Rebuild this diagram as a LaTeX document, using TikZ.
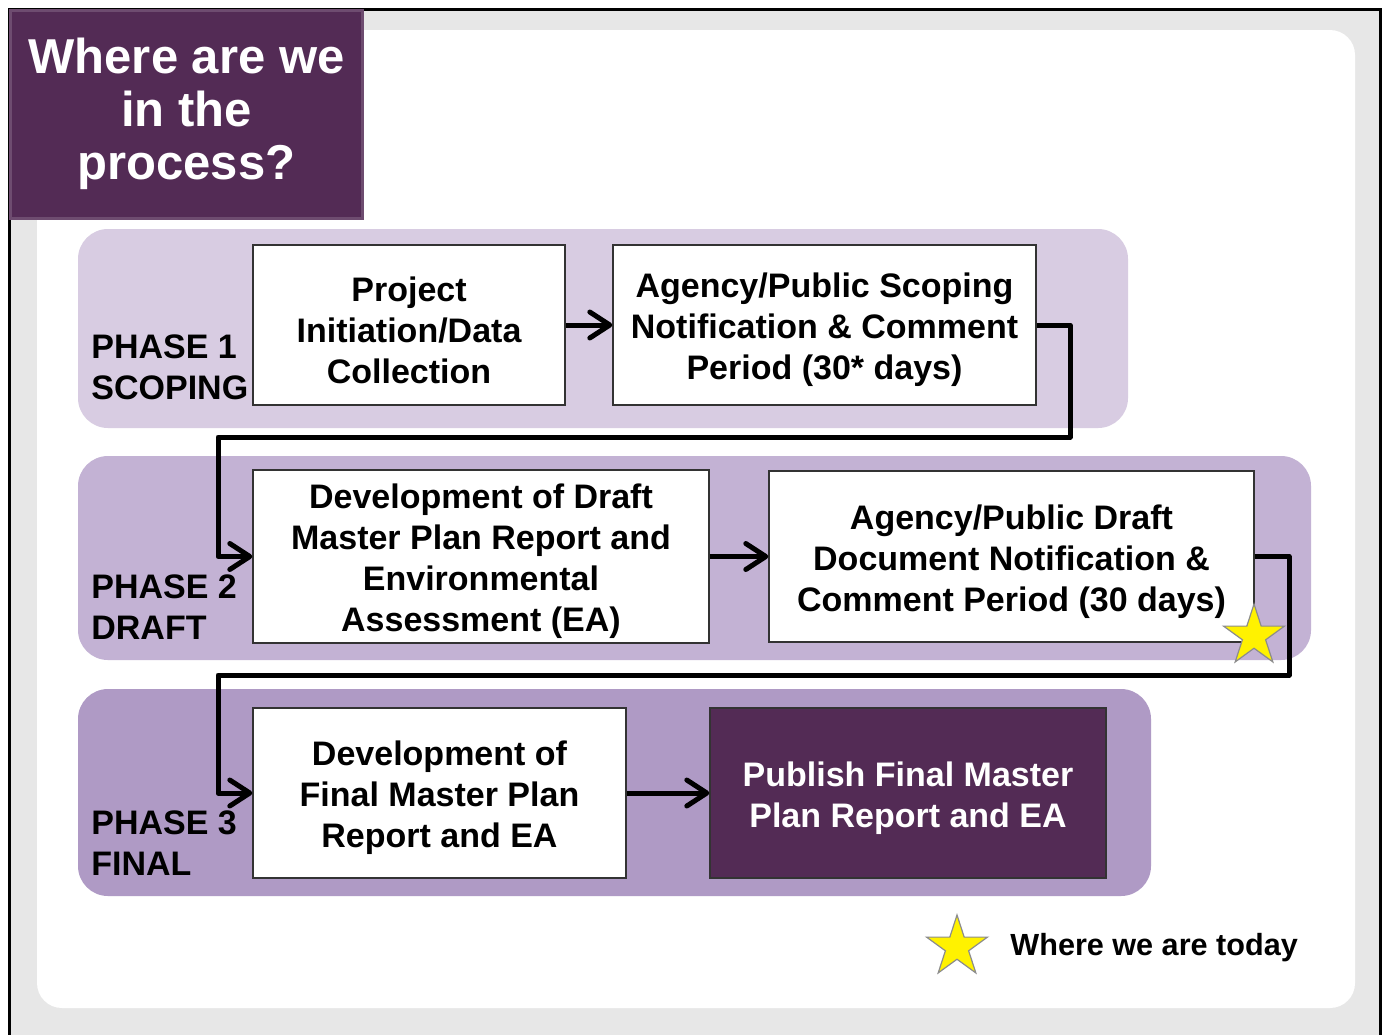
\documentclass[tikz,border=0pt]{standalone}
\usepackage{fontspec}
\setmainfont{Liberation Sans}
\usetikzlibrary{calc}
\usetikzlibrary{arrows.meta}
\usetikzlibrary{shapes.geometric}

\definecolor{PurpleDark}{HTML}{532B55}
\definecolor{PurpleEdge}{HTML}{6E4C70}
\definecolor{PhaseOne}{HTML}{D8CCE2}
\definecolor{PhaseTwo}{HTML}{C3B2D4}
\definecolor{PhaseThree}{HTML}{AF9AC5}
\definecolor{BackGray}{HTML}{E7E7E7}

\def\TopStrut{\rule{0pt}{17.4pt}}

\begin{document}
\begin{tikzpicture}[x=0.5pt,y=-0.5pt,
  every node/.style={font=\bfseries},
  stepbox/.style={draw=black!80,line width=0.7pt,fill=white,align=center,inner sep=2pt,
    font=\bfseries\fontsize{17}{20.5}\selectfont},
  phaselabel/.style={anchor=west,align=left,inner sep=0pt,
    font=\bfseries\fontsize{17}{20.5}\selectfont},
  flow/.style={line width=2.5pt,line join=round,
    -{Straight Barb[length=10pt,width=13pt,line cap=round,line join=round]}},
  today/.style={star,star points=5,star point ratio=2.618,fill=yellow,draw=black!45,
    line width=0.6pt,minimum size=32pt,inner sep=0pt}]

\useasboundingbox (0,0) rectangle (1384,1034);

%%%%%%%%%%%%%%%%%%%%%%%%
%Fond de la diapo
%%%%%%%%%%%%%%%%%%%%%%%%
\fill[white] (0,0) rectangle (1384,1034);
\fill[BackGray] (9,9) rectangle (1380,1040);
\draw[line width=1.5pt] (9,1040) -- (9,9) -- (1380,9) -- (1380,1040);
\fill[white,rounded corners=12.5pt] (37,30) rectangle (1355,1008);

%titre
\node[fill=PurpleDark,draw=PurpleEdge,line width=1.5pt,text=white,align=center,
  minimum width=176pt,minimum height=104pt,inner sep=0pt,
  font=\bfseries\fontsize{24.5}{26.5}\selectfont] (title) at (186.5,114)
  {Where are we\\in the\\process?};

%%%%%%%%%%%%%%%%%%%%%%%%
%Bandes des phases
%%%%%%%%%%%%%%%%%%%%%%%%
\fill[PhaseOne,rounded corners=15pt] (78,229) rectangle (1128,428);
\fill[PhaseTwo,rounded corners=15pt] (78,456) rectangle (1311,660);
\fill[PhaseThree,rounded corners=15pt] (78,689) rectangle (1151,896);

\node[phaselabel] (labone) at (91,367) {PHASE 1\\SCOPING};
\node[phaselabel] (labtwo) at (91,607) {PHASE 2\\DRAFT};
\node[phaselabel] (labthree) at (91,843) {PHASE 3\\FINAL};

%%%%%%%%%%%%%%%%%%%%%%%%
%Etapes
%%%%%%%%%%%%%%%%%%%%%%%%
\node[stepbox,minimum width=156pt,minimum height=80pt] (init) at (409,325)
  {\TopStrut Project\\Initiation/Data\\Collection};
\node[stepbox,minimum width=211.5pt,minimum height=80pt] (scoping) at (824.5,325)
  {\TopStrut Agency/Public Scoping\\Notification \& Comment\\Period (30* days)};
\node[stepbox,minimum width=228pt,minimum height=85.5pt] (draft) at (481,556.5)
  {\TopStrut Development of Draft\\Master Plan Report and\\Environmental\\Assessment (EA)};
\node[stepbox,minimum width=242.5pt,minimum height=85.5pt] (review) at (1011.5,556.5)
  {\TopStrut Agency/Public Draft\\Document Notification \&\\Comment Period (30 days)};
\node[stepbox,minimum width=186.5pt,minimum height=85pt] (final) at (439.5,793)
  {\TopStrut Development of\\Final Master Plan\\Report and EA};
\node[stepbox,fill=PurpleDark,text=white,minimum width=198pt,minimum height=85pt] (publish) at (908,793)
  {\TopStrut Publish Final Master\\Plan Report and EA};

%%%%%%%%%%%%%%%%%%%%%%%%
%Fleches
%%%%%%%%%%%%%%%%%%%%%%%%
\coordinate (turnA) at (1070,437);
\coordinate (turnB) at (218,437);
\coordinate (turnC) at (1289,675);
\coordinate (turnD) at (218,675);

\draw[flow] (init) -- (scoping);
\draw[flow] (scoping.east) -| (turnA) -- (turnB) |- (draft.west);
\draw[flow] (draft) -- (review);
\draw[flow] (review.east) -| (turnC) -- (turnD) |- (final.west);
\draw[flow] (final) -- (publish);

%etoiles
\node[today] (here) at (1254,636) {};
\node[today] (legstar) at (957,947) {};
\node[anchor=west,inner sep=0pt,font=\bfseries\fontsize{15.3}{18}\selectfont] (legend) at (1010,948)
  {Where we are today};

\end{tikzpicture}
\end{document}
